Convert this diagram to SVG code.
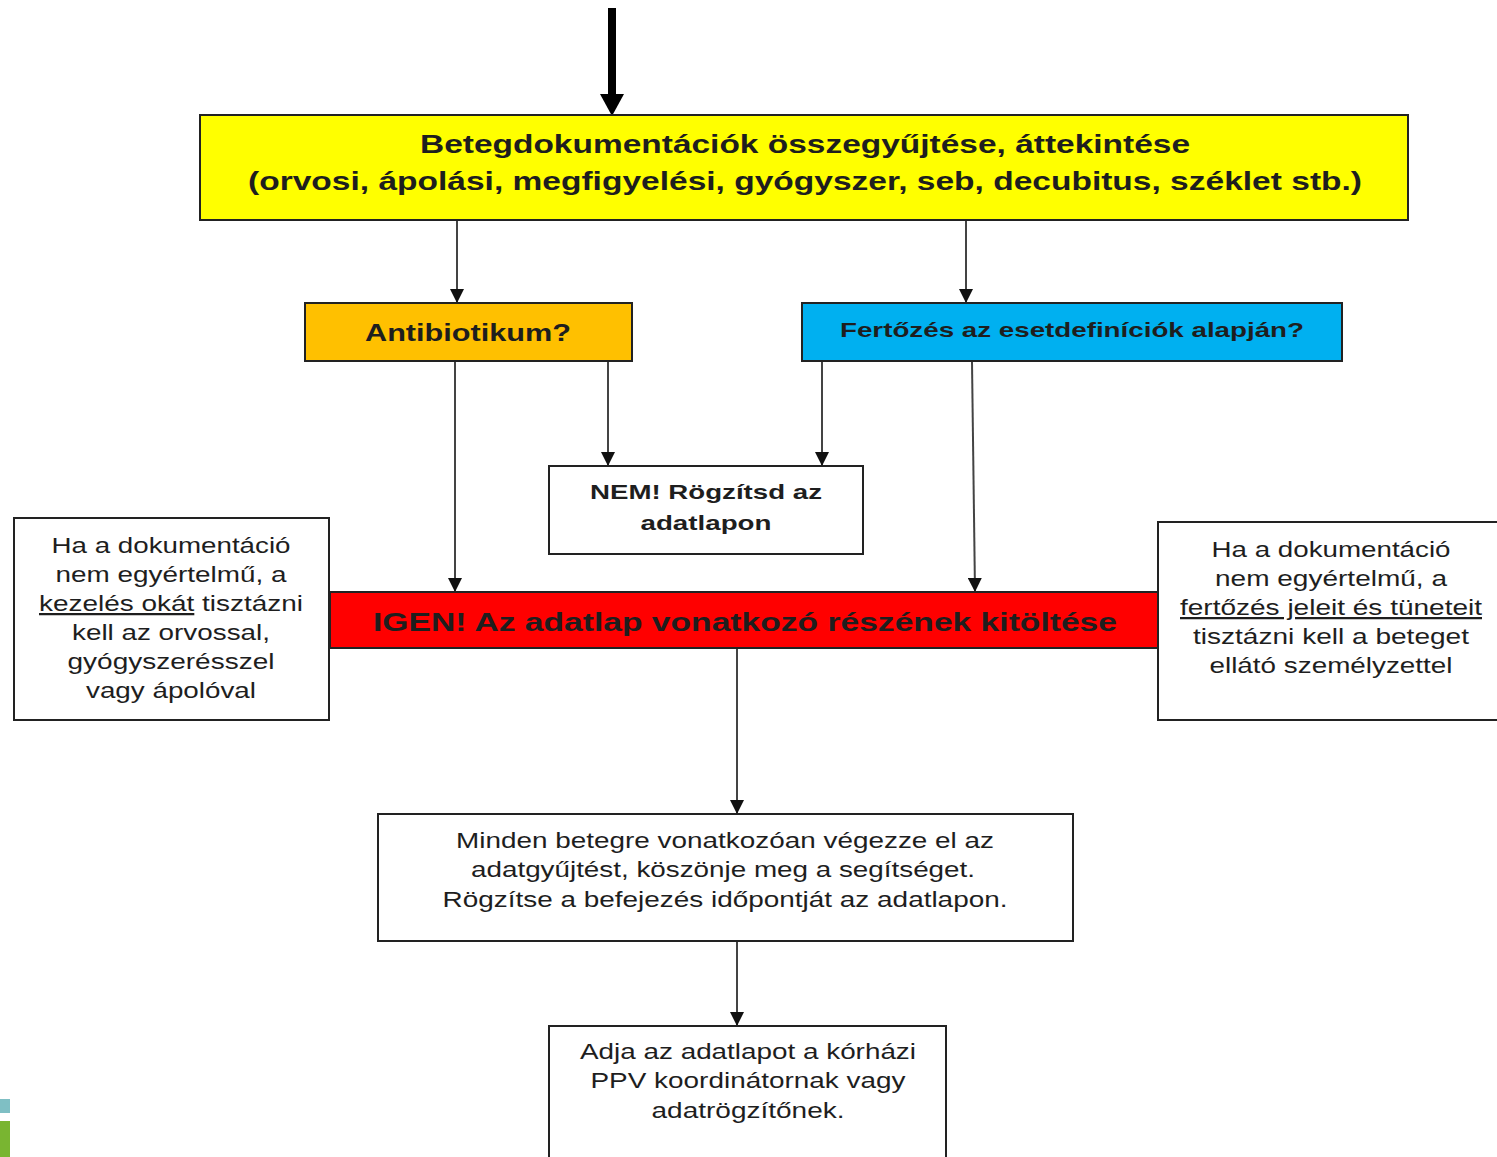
<svg xmlns="http://www.w3.org/2000/svg" width="1497" height="1157" viewBox="0 0 1497 1157">
<defs>
<marker id="ah" markerWidth="14" markerHeight="14" refX="14" refY="7" orient="auto" markerUnits="userSpaceOnUse" viewBox="0 0 14 14">
<path d="M0,0 L14,7 L0,14 Z" fill="#111"/>
</marker>
<style>
.box{stroke:#222;stroke-width:2}
.t{font-family:"Liberation Sans",Arial,sans-serif;fill:#1e1e1e;text-anchor:middle}
.b{font-weight:bold}
.r{font-size:22.5px}
.con{stroke:#444;stroke-width:2;fill:none}
</style>
</defs>
<rect width="1497" height="1157" fill="#fff"/>
<rect x="0" y="1099" width="10" height="14" fill="#7fbfc4"/>
<rect x="0" y="1121" width="10" height="36" fill="#79b531"/>

<g id="connectors">
<line x1="612" y1="8" x2="612" y2="96" stroke="#000" stroke-width="8"/>
<path d="M600,94 L624,94 L612,116 Z" fill="#000"/>
<line class="con" x1="457" y1="221" x2="457" y2="303" marker-end="url(#ah)"/>
<line class="con" x1="966" y1="221" x2="966" y2="303" marker-end="url(#ah)"/>
<line class="con" x1="455" y1="362" x2="455" y2="592" marker-end="url(#ah)"/>
<line class="con" x1="608" y1="362" x2="608" y2="466" marker-end="url(#ah)"/>
<line class="con" x1="822" y1="362" x2="822" y2="466" marker-end="url(#ah)"/>
<line class="con" x1="972" y1="362" x2="975" y2="592" marker-end="url(#ah)"/>
<line class="con" x1="737" y1="649" x2="737" y2="814" marker-end="url(#ah)"/>
<line class="con" x1="737" y1="942" x2="737" y2="1026" marker-end="url(#ah)"/>
</g>

<g id="n-top">
<rect class="box" x="200" y="115" width="1208" height="105" fill="#ffff00"/>
<text class="t b" x="805" y="153" font-size="26" textLength="770" lengthAdjust="spacingAndGlyphs">Betegdokumentációk összegyűjtése, áttekintése</text>
<text class="t b" x="805" y="190" font-size="26" textLength="1114" lengthAdjust="spacingAndGlyphs">(orvosi, ápolási, megfigyelési, gyógyszer, seb, decubitus, széklet stb.)</text>
</g>

<g id="n-antibiotikum">
<rect class="box" x="305" y="303" width="327" height="58" fill="#ffc000"/>
<text class="t b" x="468" y="341" font-size="24" textLength="206" lengthAdjust="spacingAndGlyphs">Antibiotikum?</text>
</g>

<g id="n-fertozes">
<rect class="box" x="802" y="303" width="540" height="58" fill="#00b0f0"/>
<text class="t b" x="1072" y="337" font-size="20.5" textLength="464" lengthAdjust="spacingAndGlyphs">Fertőzés az esetdefiníciók alapján?</text>
</g>

<g id="n-nem">
<rect class="box" x="549" y="466" width="314" height="88" fill="#fff"/>
<text class="t b" x="706" y="499" font-size="21" textLength="232" lengthAdjust="spacingAndGlyphs">NEM! Rögzítsd az</text>
<text class="t b" x="706" y="530" font-size="21" textLength="131" lengthAdjust="spacingAndGlyphs">adatlapon</text>
</g>

<g id="n-igen">
<rect class="box" x="330" y="592" width="828" height="56" fill="#ff0000"/>
<text class="t b" x="745" y="631" font-size="25" textLength="744" lengthAdjust="spacingAndGlyphs">IGEN! Az adatlap vonatkozó részének kitöltése</text>
</g>

<g id="n-left">
<rect class="box" x="14" y="518" width="315" height="202" fill="#fff"/>
<g class="t r">
<text x="171" y="553" textLength="239" lengthAdjust="spacingAndGlyphs">Ha a dokumentáció</text>
<text x="171" y="582" textLength="231" lengthAdjust="spacingAndGlyphs">nem egyértelmű, a</text>
<text x="171" y="611" textLength="264" lengthAdjust="spacingAndGlyphs"><tspan text-decoration="underline">kezelés okát</tspan> tisztázni</text>
<text x="171" y="640" textLength="198" lengthAdjust="spacingAndGlyphs">kell az orvossal,</text>
<text x="171" y="669" textLength="207" lengthAdjust="spacingAndGlyphs">gyógyszerésszel</text>
<text x="171" y="698" textLength="170" lengthAdjust="spacingAndGlyphs">vagy ápolóval</text>
</g>
</g>

<g id="n-right">
<rect class="box" x="1158" y="522" width="345" height="198" fill="#fff"/>
<g class="t r">
<text x="1331" y="557" textLength="239" lengthAdjust="spacingAndGlyphs">Ha a dokumentáció</text>
<text x="1331" y="586" textLength="232" lengthAdjust="spacingAndGlyphs">nem egyértelmű, a</text>
<text x="1331" y="615" textLength="302" lengthAdjust="spacingAndGlyphs" text-decoration="underline">fertőzés jeleit és tüneteit</text>
<text x="1331" y="644" textLength="276" lengthAdjust="spacingAndGlyphs">tisztázni kell a beteget</text>
<text x="1331" y="673" textLength="243" lengthAdjust="spacingAndGlyphs">ellátó személyzettel</text>
</g>
</g>

<g id="n-minden">
<rect class="box" x="378" y="814" width="695" height="127" fill="#fff"/>
<g class="t r">
<text x="725" y="848" textLength="538" lengthAdjust="spacingAndGlyphs">Minden betegre vonatkozóan végezze el az</text>
<text x="723" y="877" textLength="504" lengthAdjust="spacingAndGlyphs">adatgyűjtést, köszönje meg a segítséget.</text>
<text x="725" y="907" textLength="565" lengthAdjust="spacingAndGlyphs">Rögzítse a befejezés időpontját az adatlapon.</text>
</g>
</g>

<g id="n-adja">
<rect class="box" x="549" y="1026" width="397" height="140" fill="#fff"/>
<g class="t r">
<text x="748" y="1059" textLength="336" lengthAdjust="spacingAndGlyphs">Adja az adatlapot a kórházi</text>
<text x="748" y="1088" textLength="315" lengthAdjust="spacingAndGlyphs">PPV koordinátornak vagy</text>
<text x="748" y="1118" textLength="193" lengthAdjust="spacingAndGlyphs">adatrögzítőnek.</text>
</g>
</g>
</svg>
